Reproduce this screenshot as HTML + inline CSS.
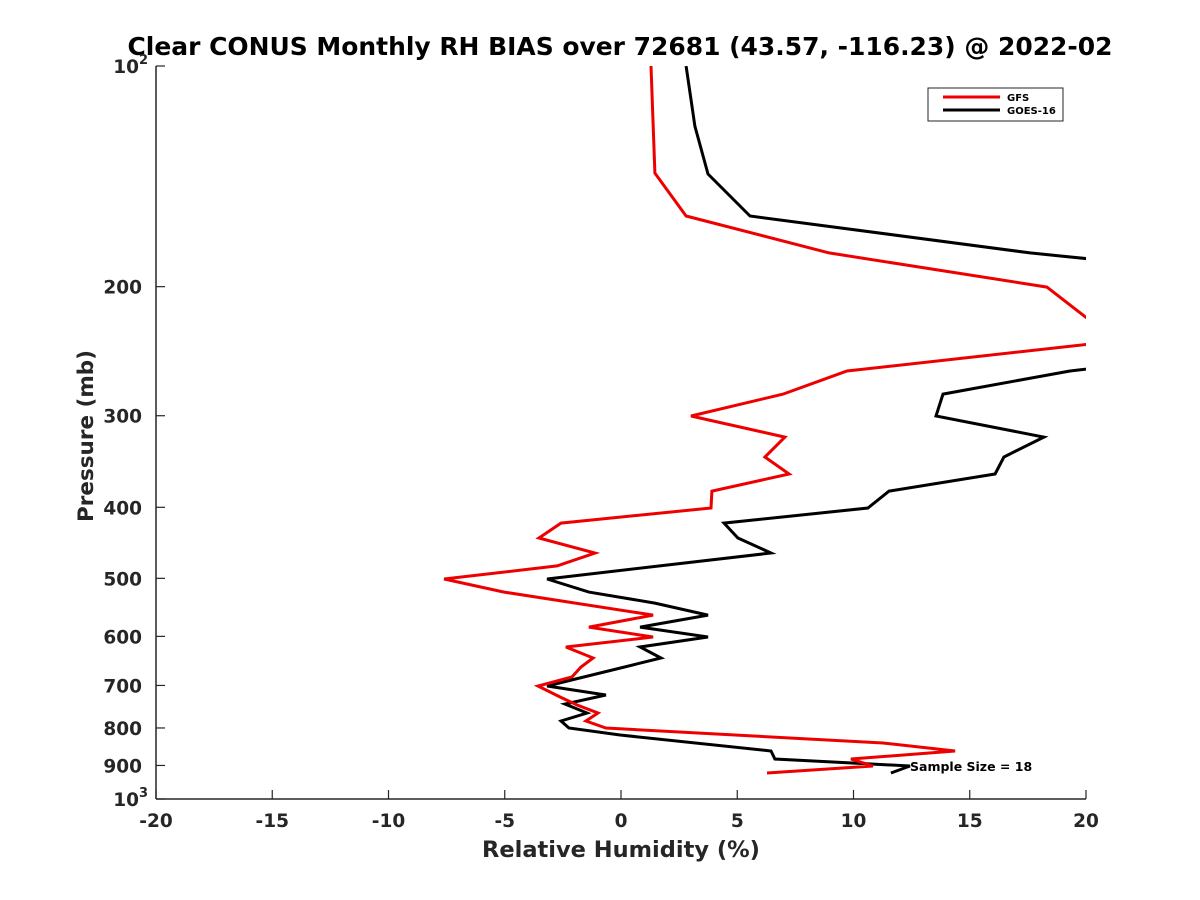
<!DOCTYPE html>
<html><head><meta charset="utf-8"><style>
html,body{margin:0;padding:0;background:#fff;}
svg{display:block;font-family:"DejaVu Sans","Liberation Sans",sans-serif;font-weight:bold;}
</style></head><body>
<svg id="chart" width="1200" height="900" viewBox="0 0 1200 900" xmlns="http://www.w3.org/2000/svg">
<rect width="1200" height="900" fill="#fff"/>
<text x="620" y="55" text-anchor="middle" font-size="25" fill="#000" textLength="985" lengthAdjust="spacingAndGlyphs">Clear CONUS Monthly RH BIAS over 72681 (43.57, -116.23) @ 2022-02</text>
<defs><clipPath id="plotclip"><rect x="156" y="66" width="930" height="733"/></clipPath></defs>
<g id="axes"></g>
<g id="series" clip-path="url(#plotclip)"></g>
<text x="621" y="857" text-anchor="middle" font-size="22.5" fill="#262626">Relative Humidity (%)</text>
<text transform="translate(93,436) rotate(-90)" text-anchor="middle" font-size="21.5" fill="#262626">Pressure (mb)</text>
<text x="910" y="771" font-size="12.5" fill="#000">Sample Size = 18</text>
<g>
<rect x="928" y="88" width="135" height="33" fill="#fff" stroke="#262626" stroke-width="1"/>
<line x1="943" y1="97" x2="1000" y2="97" stroke="#e00" stroke-width="3"/>
<text x="1007" y="101" font-size="10" fill="#000">GFS</text>
<line x1="943" y1="110" x2="1000" y2="110" stroke="#000" stroke-width="3"/>
<text x="1007" y="114" font-size="10" fill="#000">GOES-16</text>
</g>
</svg>
<script>
const xTicks = [-20,-15,-10,-5,0,5,10,15,20];
const yTicks = [100,200,300,400,500,600,700,800,900,1000];
const yTickLabels = ["10^2","200","300","400","500","600","700","800","900","10^3"];
const gfsP = [100,140,160.2,179.9,200.3,218.7,232.8,237.9,260.7,280.3,300.3,320.8,341.5,360.3,380.1,400.9,420.3,440.5,461.7,480.9,501.1,522,561.2,582.7,601.2,620.4,642.1,660.5,681.6,701.2,725.9,744.3,763.3,782.7,800,838.7,860.1,882,901.6,921.5];
const gfsRH = [1.29,1.46,2.80,8.95,18.32,19.87,21.0,21.0,9.72,6.97,3.01,7.05,6.19,7.23,3.91,3.87,-2.58,-3.53,-1.12,-2.75,-7.61,-5.03,1.38,-1.38,1.38,-2.37,-1.20,-1.72,-2.11,-3.57,-2.62,-1.89,-0.99,-1.51,-0.65,11.27,14.37,9.89,10.84,6.28];
const goesP = [100,120.8,140.4,160.2,179.9,185.1,255.8,260.7,280.3,300.3,320.8,341.5,360.3,380.1,400.9,420.3,440.5,461.7,501.1,522,540.4,561.2,582.7,601.2,620.4,642.1,701.2,721.4,742.1,763.3,782.7,800,817.9,860.1,882,901.6,921.5];
const goesRH = [2.80,3.18,3.74,5.55,17.59,21.46,21.46,19.31,13.85,13.55,18.19,16.47,16.09,11.53,10.62,4.43,5.03,6.45,-3.18,-1.38,1.46,3.74,0.82,3.74,0.82,1.72,-3.18,-0.65,-2.41,-1.46,-2.58,-2.24,-0.04,6.45,6.62,12.43,11.61];

const NS="http://www.w3.org/2000/svg";
const X0=156,X1=1086,Y0=66,Y1=799;
function xs(v){return X0+(v+20)/40*(X1-X0);}
function ys(p){return Y0+(Math.log10(p)-2)*(Y1-Y0);}
function mk(tag,attrs,parent){const e=document.createElementNS(NS,tag);for(const k in attrs)e.setAttribute(k,attrs[k]);parent.appendChild(e);return e;}
const axes=document.getElementById('axes');
const ser=document.getElementById('series');
let a=mk('line',{x1:X0,y1:Y0,x2:X0,y2:Y1,stroke:'#262626','stroke-width':1.5},axes);


a=mk('line',{x1:X0,y1:Y1,x2:X1,y2:Y1,stroke:'#262626','stroke-width':1.5},axes);


xTicks.forEach(v=>{
  const t=mk('line',{x1:xs(v),y1:Y1,x2:xs(v),y2:Y1-9,stroke:'#262626','stroke-width':1.2},axes);
  
  
  const l=mk('text',{x:xs(v),y:Y1+28,'text-anchor':'middle','font-size':18.5,fill:'#262626'},axes);
  l.textContent=String(v);
  
  
});
yTicks.forEach((p,i)=>{
  const t=mk('line',{x1:X0,y1:ys(p),x2:X0+9,y2:ys(p),stroke:'#262626','stroke-width':1.2},axes);
  
  
  const l=mk('text',{x:142,y:ys(p)+7,'text-anchor':'end','font-size':18.5,fill:'#262626'},axes);
  const s=yTickLabels[i];
  if(s.indexOf('^')>=0){
    const parts=s.split('^');
    l.textContent=parts[0];
    const sup=mk('tspan',{dy:-9,'font-size':13},l);
    sup.textContent=parts[1];
    l.setAttribute('x',148);
  } else l.textContent=s;
  
  
});
function drawLine(P,RH,color,name){
  const pts=P.map((p,i)=>xs(RH[i]).toFixed(1)+','+ys(p).toFixed(1)).join(' ');
  const e=mk('polyline',{points:pts,fill:'none',stroke:color,'stroke-width':3,'stroke-linejoin':'miter'},ser);
  
  
}
drawLine(goesP,goesRH,'#000','goes16-line');
drawLine(gfsP,gfsRH,'#e00','gfs-line');
</script>
</body></html>
